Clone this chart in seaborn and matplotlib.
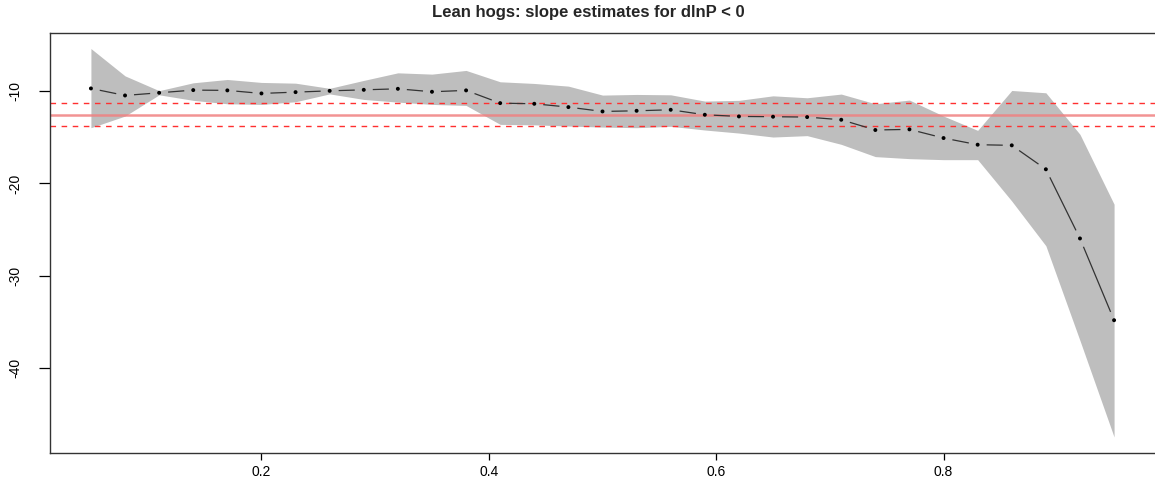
import numpy as np
import pandas as pd
import matplotlib
matplotlib.use("Agg")
import matplotlib.pyplot as plt
import seaborn as sns

# ---- data ----
taus = [0.05, 0.08, 0.11, 0.14, 0.17, 0.20, 0.23, 0.26, 0.29, 0.32, 0.35,
        0.38, 0.41, 0.44, 0.47, 0.50, 0.53, 0.56, 0.59, 0.62, 0.65, 0.68,
        0.71, 0.74, 0.77, 0.80, 0.83, 0.86, 0.89, 0.92, 0.95]
estimate = [-9.71, -10.47, -10.18, -9.89, -9.92, -10.25, -10.11, -9.97, -9.86,
            -9.75, -10.07, -9.92, -11.30, -11.37, -11.73, -12.20, -12.13,
            -12.02, -12.56, -12.74, -12.77, -12.81, -13.10, -14.21, -14.14,
            -15.08, -15.80, -15.87, -18.46, -25.95, -34.80]
upper = [-5.39, -8.35, -9.95, -9.10, -8.74, -9.06, -9.14, -9.70, -8.84, -8.02,
         -8.16, -7.76, -8.99, -9.17, -9.46, -10.43, -10.36, -10.40, -11.08,
         -11.00, -10.51, -10.72, -10.32, -11.37, -10.97, -12.70, -14.25,
         -9.93, -10.18, -14.68, -22.24]
lower = [-13.96, -12.70, -10.40, -11.00, -11.37, -11.44, -11.15, -10.30,
         -10.90, -11.19, -11.44, -11.55, -13.60, -13.65, -13.78, -13.89,
         -13.96, -13.81, -14.21, -14.54, -14.97, -14.82, -15.76, -17.09,
         -17.31, -17.42, -17.42, -21.90, -26.74, -37.00, -47.44]
ols_estimate = -12.56
ols_lower = -13.81
ols_upper = -11.33
xticks = [0.2, 0.4, 0.6, 0.8]
yticks = [-40, -30, -20, -10]
title = "Lean hogs: slope estimates for dlnP < 0"

df = pd.DataFrame({"tau": taus, "est": estimate, "lo": lower, "hi": upper})

sns.set_style("white")
plt.rcParams["font.family"] = ["Liberation Sans", "DejaVu Sans"]
plt.rcParams["axes.unicode_minus"] = False

W, H = 1155, 479
fig = plt.figure(figsize=(W / 100, H / 100), dpi=100)
ax = fig.add_axes([50 / W, 26.5 / H, (W - 50) / W, 419.5 / H])

# confidence band
ax.fill_between(df["tau"], df["lo"], df["hi"], color="#BEBEBE", linewidth=0, zorder=1)

# OLS lines
ax.axhline(ols_estimate, color="#F08080", lw=1.8, alpha=0.85, zorder=2)
ax.axhline(ols_lower, color="#FF3030", lw=1.0, ls=(0, (4, 4)), zorder=2)
ax.axhline(ols_upper, color="#FF3030", lw=1.0, ls=(0, (4, 4)), zorder=2)

sns.scatterplot(data=df, x="tau", y="est", ax=ax, color="black", s=8,
                marker="o", edgecolor="none", zorder=4)

# R-style 4% axis extension (set after seaborn so it is final)
xr = max(taus) - min(taus)
ax.set_xlim(min(taus) - 0.04 * xr, max(taus) + 0.04 * xr)
ymin, ymax = min(lower), max(upper)
yr = ymax - ymin
ax.set_ylim(ymin - 0.04 * yr, ymax + 0.04 * yr)
fig.canvas.draw()

# type="b" line: segments with gaps around the points
gap = 9.0
pts = ax.transData.transform(np.column_stack([df["tau"], df["est"]]))
inv = ax.transData.inverted()
for p0, p1 in zip(pts[:-1], pts[1:]):
    d = p1 - p0
    L = float(np.hypot(d[0], d[1]))
    if L > 2 * gap:
        u = d / L
        a = p0 + u * gap
        b = p1 - u * gap
        seg = inv.transform(np.vstack([a, b]))
        ax.plot(seg[:, 0], seg[:, 1], color="#333333", lw=0.9, zorder=3,
                solid_capstyle="butt", scalex=False, scaley=False)

ax.set_xlabel("")
ax.set_ylabel("")
ax.set_xticks(xticks)
ax.set_xticklabels([f"{t:.1f}" for t in xticks])
ax.set_yticks(yticks)
ax.set_yticklabels([str(t) for t in yticks])
ax.tick_params(axis="x", direction="out", length=5, width=0.9, colors="black",
               labelsize=10, pad=4, bottom=True)
ax.tick_params(axis="y", direction="out", length=8, width=0.9, colors="black",
               labelsize=10, pad=12, left=True)
for lab in ax.get_yticklabels():
    lab.set_rotation(90)
    lab.set_va("center")
    lab.set_ha("right")

for s in ["top", "left", "bottom"]:
    ax.spines[s].set_color("#333333")
    ax.spines[s].set_linewidth(1.0)
ax.spines["right"].set_visible(False)

fig.text(588 / W, 1 - 12 / H, title, fontsize=12, fontweight="bold",
         ha="center", va="center")

fig.savefig("out.png", dpi=100)
